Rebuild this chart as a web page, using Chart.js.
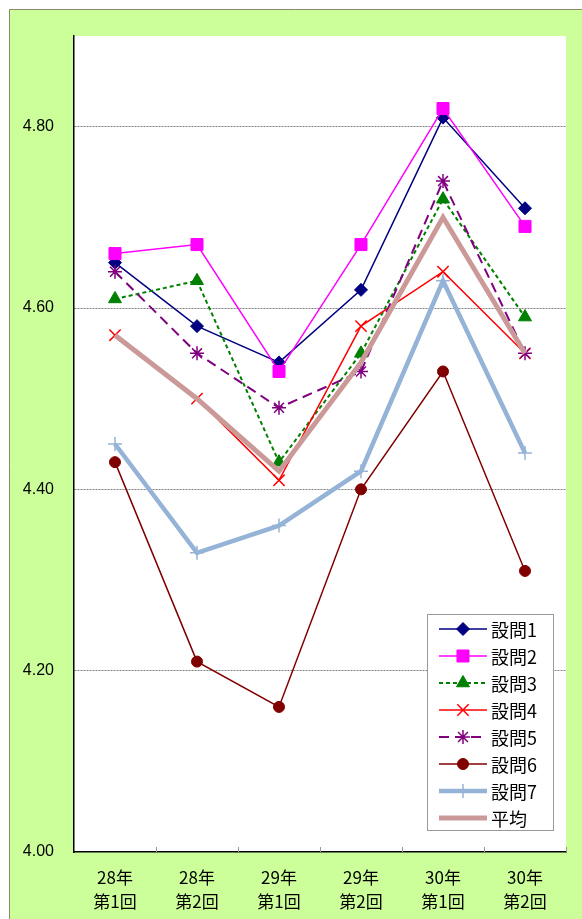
<!DOCTYPE html>
<html>
<head>
<meta charset="utf-8">
<script src="https://cdn.jsdelivr.net/npm/chart.js@4"></script>
<style>
html,body{margin:0;padding:0;background:#fff;}
#wrap{width:582px;height:919px;position:relative;}
</style>
</head>
<body>
<div id="wrap"><canvas id="c" width="582" height="919"></canvas></div>
<script>
const categories = [["28年","第1回"],["28年","第2回"],["29年","第1回"],["29年","第2回"],["30年","第1回"],["30年","第2回"]];
const yTickValues = [4.0, 4.2, 4.4, 4.6, 4.8];
const seriesNames = ["設問1","設問2","設問3","設問4","設問5","設問6","設問7","平均"];
const q1 = [4.65, 4.58, 4.54, 4.62, 4.81, 4.71];
const q2 = [4.66, 4.67, 4.53, 4.67, 4.82, 4.69];
const q3 = [4.61, 4.63, 4.43, 4.55, 4.72, 4.59];
const q4 = [4.57, 4.50, 4.41, 4.58, 4.64, 4.55];
const q5 = [4.64, 4.55, 4.49, 4.53, 4.74, 4.55];
const q6 = [4.43, 4.21, 4.16, 4.40, 4.53, 4.31];
const q7 = [4.45, 4.33, 4.36, 4.42, 4.63, 4.44];
const avg = [4.57, 4.50, 4.42, 4.54, 4.70, 4.55];

const styles = [
  {color:'#000080', width:1.5, dash:[], point:'rectRot', r:6.5, pbw:1},
  {color:'#ff00ff', width:1.5, dash:[], point:'rect', r:8.5, pbw:1},
  {color:'#008000', width:2, dash:[4,3], point:'triangle', r:7.5, pbw:1},
  {color:'#ff0000', width:1.5, dash:[], point:'crossRot', r:8, pbw:1.5},
  {color:'#800080', width:2, dash:[10,6], point:'star', r:7, pbw:1.5},
  {color:'#800000', width:1.5, dash:[], point:'circle', r:5.5, pbw:1},
  {color:'#95b3d7', width:4.5, dash:[], point:'cross', r:7, pbw:1.5},
  {color:'#cc9999', width:5, dash:[], point:false, r:0, pbw:0}
];
const allData = [q1,q2,q3,q4,q5,q6,q7,avg];

const datasets = allData.map((d,i)=>({
  label: seriesNames[i],
  data: d,
  borderColor: styles[i].color,
  backgroundColor: styles[i].color,
  borderWidth: styles[i].width,
  borderDash: styles[i].dash,
  pointStyle: styles[i].point,
  pointRadius: styles[i].r,
  pointHoverRadius: styles[i].r,
  pointBorderWidth: styles[i].pbw,
  pointBackgroundColor: styles[i].color,
  pointBorderColor: styles[i].color,
  tension: 0,
  fill: false,
  order: allData.length - i
}));

const bgPlugin = {
  id:'bg',
  beforeDraw(chart){
    const ctx = chart.ctx, ca = chart.chartArea;
    ctx.save();
    ctx.fillStyle = '#ffffff';
    ctx.fillRect(0,0,chart.width,chart.height);
    ctx.fillStyle = '#ccff99';
    ctx.fillRect(9,9,chart.width-9,chart.height-9);
    ctx.strokeStyle = '#8a8a6a';
    ctx.lineWidth = 1;
    ctx.beginPath();
    ctx.moveTo(9.5, chart.height); ctx.lineTo(9.5, 9.5); ctx.lineTo(chart.width, 9.5);
    ctx.stroke();
    ctx.fillStyle = '#ffffff';
    ctx.fillRect(ca.left, ca.top, ca.right-ca.left, ca.bottom-ca.top);
    ctx.restore();
  },
  afterDatasetsDraw(chart){
    const ctx = chart.ctx, ca = chart.chartArea;
    const xs = chart.scales.x;
    ctx.save();
    ctx.strokeStyle = '#999999';
    ctx.lineWidth = 1;
    for (let i = 1; i <= categories.length; i++) {
      const x = Math.round(xs.getPixelForValue(i - 0.5)) + 0.5;
      ctx.beginPath();
      ctx.moveTo(x, ca.bottom);
      ctx.lineTo(x, ca.bottom - 5);
      ctx.stroke();
    }
    ctx.restore();
  }
};

const legendPlugin = {
  id:'boxLegend',
  afterDraw(chart){
    const ctx = chart.ctx;
    const bx = 427, by = 614, bw = 126, bh = 216;
    ctx.save();
    ctx.fillStyle = '#ffffff';
    ctx.fillRect(bx, by, bw, bh);
    ctx.strokeStyle = '#999999';
    ctx.lineWidth = 1;
    ctx.strokeRect(bx + 0.5, by + 0.5, bw, bh);
    chart.data.datasets.forEach((ds, i) => {
      const y = 629 + 27 * i;
      ctx.save();
      ctx.strokeStyle = ds.borderColor;
      ctx.lineWidth = ds.borderWidth;
      ctx.setLineDash(ds.borderDash || []);
      ctx.beginPath();
      ctx.moveTo(439, y); ctx.lineTo(487, y);
      ctx.stroke();
      ctx.setLineDash([]);
      if (ds.pointStyle) {
        ctx.fillStyle = ds.pointBackgroundColor;
        ctx.strokeStyle = ds.pointBorderColor;
        ctx.lineWidth = ds.pointBorderWidth;
        Chart.helpers.drawPoint(ctx, {pointStyle: ds.pointStyle, radius: ds.pointRadius, rotation: 0, borderWidth: ds.pointBorderWidth}, 463, y);
      }
      ctx.restore();
      ctx.fillStyle = '#000';
      ctx.font = '18px "Noto Sans CJK JP", sans-serif';
      ctx.textAlign = 'left';
      ctx.textBaseline = 'middle';
      ctx.fillText(ds.label, 491, y + 1);
    });
    ctx.restore();
  }
};

new Chart(document.getElementById('c'), {
  type: 'line',
  data: { labels: categories, datasets },
  options: {
    responsive: false,
    animation: false,
    events: [],
    layout: { padding: { left: 9, top: 36, right: 16, bottom: 0 } },
    plugins: { legend: { display: false }, tooltip: { enabled: false } },
    scales: {
      x: {
        type: 'category',
        offset: true,
        afterFit(s){ s.height = 67; },
        grid: { display: true, drawOnChartArea: false, drawTicks: false, color: 'rgba(0,0,0,0)' },
        border: { display: true, color: '#000000', width: 1.5 },
        ticks: {
          color: '#000000',
          padding: 13,
          maxRotation: 0,
          autoSkip: false,
          font: { family: '"Noto Sans CJK JP", sans-serif', size: 17, lineHeight: 1.45 }
        }
      },
      y: {
        min: 4.0,
        max: 4.9,
        afterFit(s){ s.width = 65; },
        afterBuildTicks(s){ s.ticks = yTickValues.map(v => ({ value: v })); },
        grid: {
          drawTicks: false,
          color: (c) => (c.tick && c.tick.value > 4.001) ? '#808080' : 'rgba(0,0,0,0)',
          lineWidth: 1
        },
        border: { display: true, color: '#000000', width: 1.5, dash: [2, 1] },
        ticks: {
          color: '#000000',
          padding: 20,
          font: { family: '"Liberation Sans", Arial, sans-serif', size: 16 },
          callback: (v) => Number(v).toFixed(2)
        }
      }
    }
  },
  plugins: [bgPlugin, legendPlugin]
});
</script>
</body>
</html>
